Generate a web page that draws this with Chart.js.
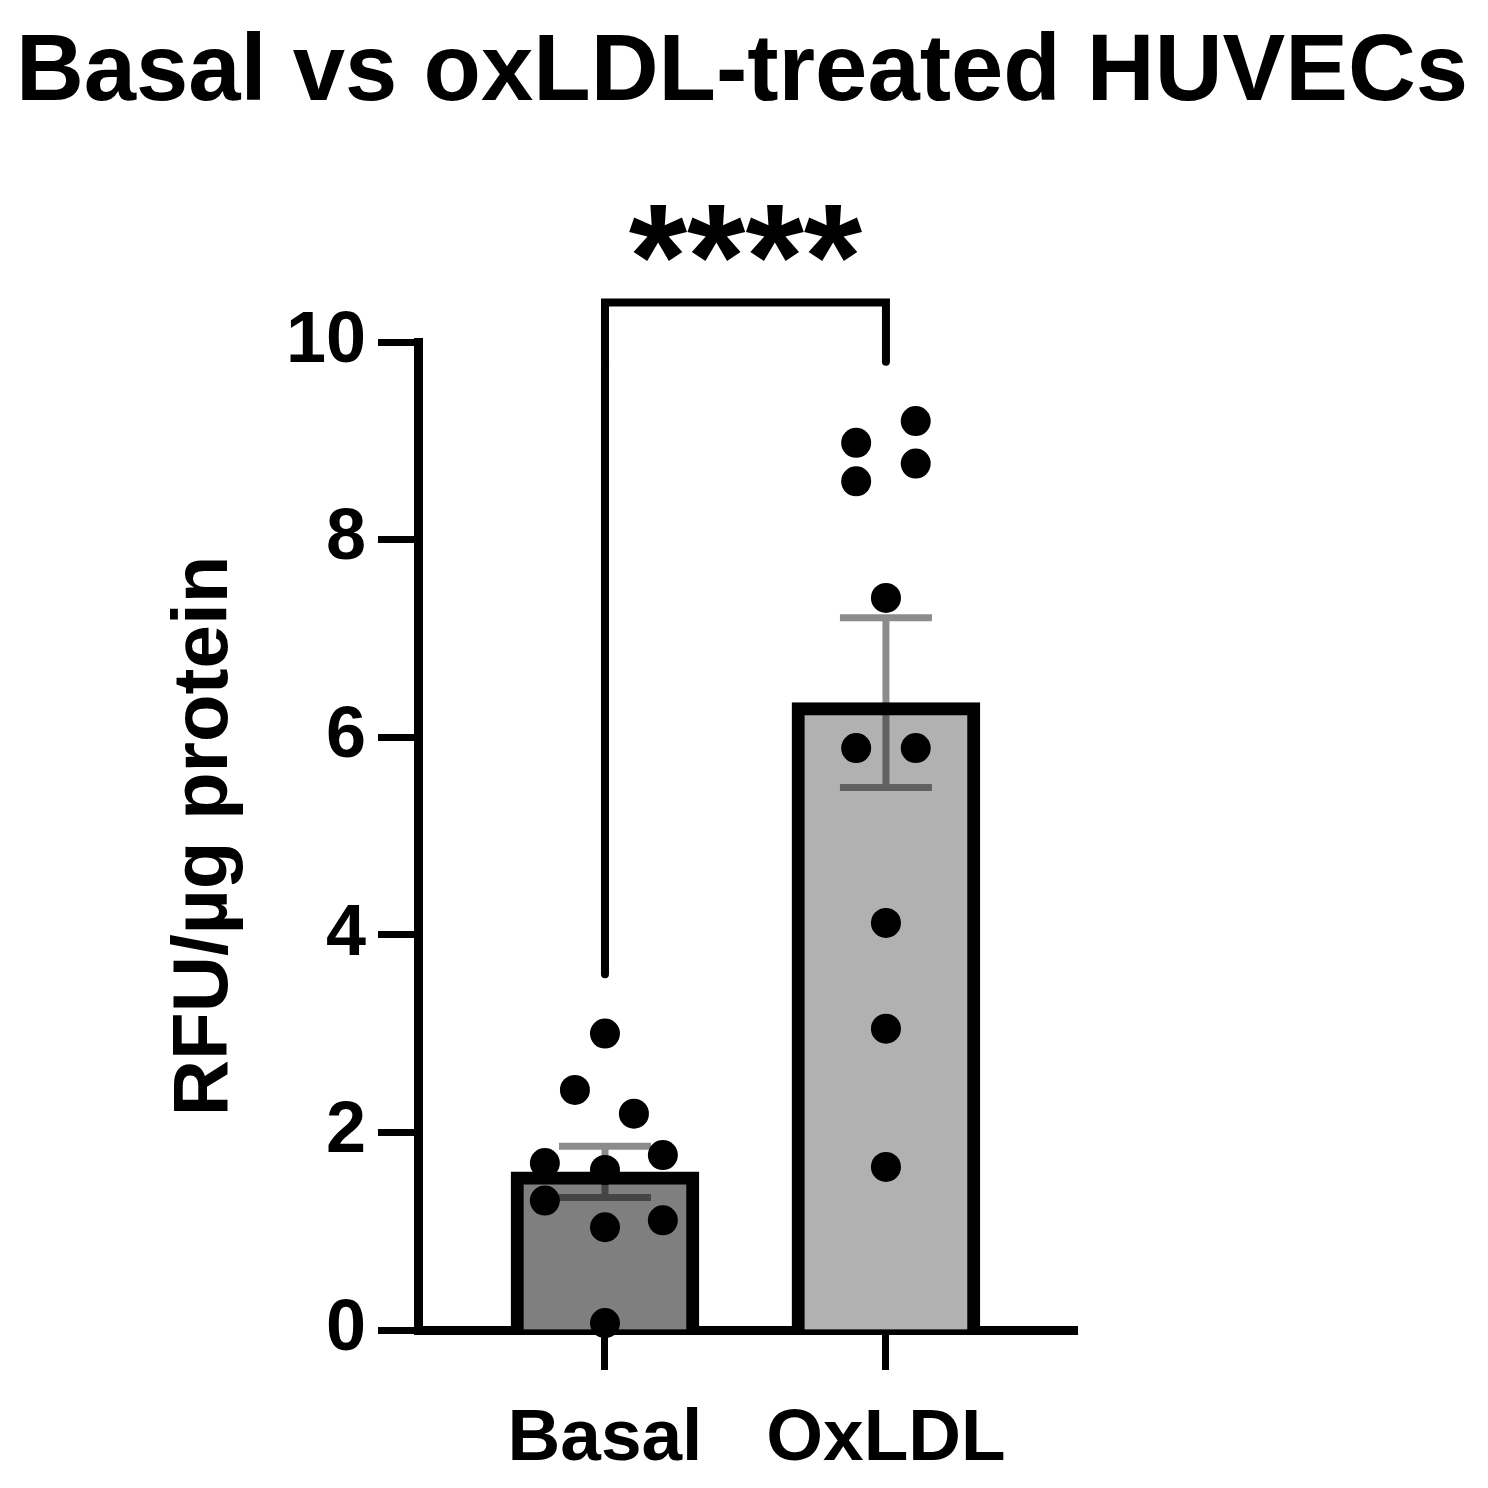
<!DOCTYPE html>
<html>
<head>
<meta charset="utf-8">
<title>Basal vs oxLDL-treated HUVECs</title>
<script src="https://cdn.jsdelivr.net/npm/chart.js@4.4.1/dist/chart.umd.min.js"></script>
<style>
    html, body { margin: 0; padding: 0; background: #fff; }
    canvas { display: block; }
</style>
</head>
<body>
<canvas id="chart" width="1488" height="1488"></canvas>
<script>
// Groups and summary values (mean ± SEM)
const categories = ["Basal", "OxLDL"];
const means = [1.60, 6.35];
const sems = [0.26, 0.86];

// Individual replicates and their horizontal jitter (in group units)
const basalValues = [3.00, 2.43, 2.19, 1.69, 1.62, 1.77, 1.31, 1.04, 1.11, 0.07];
const basalJitter = [0, -0.107, 0.103, -0.214, 0, 0.206, -0.214, 0, 0.206, 0];
const oxldlValues = [9.20, 8.98, 8.77, 8.59, 7.41, 5.89, 5.89, 4.12, 3.05, 1.65];
const oxldlJitter = [0.106, -0.106, 0.106, -0.106, 0, -0.106, 0.106, 0, 0, 0];

const yTicks = [0, 2, 4, 6, 8, 10];

// Significance bracket (y values) and label
const bracketLeftEnd = 3.6;
const bracketTop = 10.4;
const bracketRightEnd = 9.8;
const sigLabel = "****";

const chartTitle = "Basal vs oxLDL-treated HUVECs";

const FONT = "'Liberation Sans', Arial, Helvetica, sans-serif";
Chart.defaults.font.family = FONT;
Chart.defaults.color = "#000";

const barPoints = categories.map((c, i) => ({ x: i + 1, y: means[i] }));
const dotPoints = [
    ...basalValues.map((v, i) => ({ x: 1 + basalJitter[i], y: v })),
    ...oxldlValues.map((v, i) => ({ x: 2 + oxldlJitter[i], y: v }))
];

// error bars go between the bars and the dots
const errorBars = {
    id: "errorBars",
    afterDatasetDraw(chart, args) {
        if (args.index !== 0) return;
        const { ctx, scales: { x, y } } = chart;
        ctx.save();
        ctx.strokeStyle = "rgba(0,0,0,0.45)";
        ctx.lineWidth = 7;
        means.forEach((m, i) => {
            const px = x.getPixelForValue(i + 1);
            const top = y.getPixelForValue(m + sems[i]);
            const bot = y.getPixelForValue(m - sems[i]);
            ctx.beginPath();
            ctx.moveTo(px, top); ctx.lineTo(px, bot);
            ctx.moveTo(px - 46, top); ctx.lineTo(px + 46, top);
            ctx.moveTo(px - 46, bot); ctx.lineTo(px + 46, bot);
            ctx.stroke();
        });
        ctx.restore();
    }
};

// bracket, stars and the page title (title drawn here so it is not squeezed)
const annotations = {
    id: "annotations",
    afterDraw(chart) {
        const { ctx, scales: { x, y } } = chart;
        const x1 = x.getPixelForValue(1);
        const x2 = x.getPixelForValue(2);
        const top = y.getPixelForValue(bracketTop);
        ctx.save();
        ctx.strokeStyle = "#000";
        ctx.lineWidth = 8;
        ctx.lineCap = "round";
        ctx.lineJoin = "miter";
        ctx.beginPath();
        ctx.moveTo(x1, y.getPixelForValue(bracketLeftEnd));
        ctx.lineTo(x1, top);
        ctx.lineTo(x2, top);
        ctx.lineTo(x2, y.getPixelForValue(bracketRightEnd));
        ctx.stroke();

        ctx.fillStyle = "#000";
        ctx.textAlign = "center";
        ctx.textBaseline = "alphabetic";
        ctx.font = "bold 150px " + FONT;
        ctx.fillText(sigLabel, (x1 + x2) / 2, top + 7);

        ctx.font = "bold 94px " + FONT;
        ctx.fillText(chartTitle, chart.width / 2 - 2, 100);
        ctx.restore();
    }
};

new Chart(document.getElementById("chart"), {
    data: {
        datasets: [
            {
                type: "bar",
                data: barPoints,
                backgroundColor: ["#7f7f7f", "#b1b1b1"],
                borderColor: "#000",
                borderWidth: 13,
                barThickness: 188,
                order: 2
            },
            {
                type: "scatter",
                data: dotPoints,
                pointRadius: 15,
                pointBackgroundColor: "#000",
                pointBorderWidth: 0,
                clip: false,
                order: 1
            }
        ]
    },
    options: {
        responsive: false,
        animation: false,
        layout: { padding: { left: 0, right: 411, top: 342, bottom: 0 } },
        plugins: {
            legend: { display: false },
            tooltip: { enabled: false },
            title: { display: false }
        },
        scales: {
            x: {
                type: "linear",
                min: 0.3345,
                max: 2.68,
                offset: false,
                z: 1,
                afterFit: scale => { scale.height = 158; },
                afterBuildTicks: scale => {
                    scale.ticks = categories.map((c, i) => ({ value: i + 1 }));
                },
                ticks: {
                    autoSkip: false,
                    maxRotation: 0,
                    padding: 26,
                    color: "#000",
                    font: { size: 73, weight: "bold" },
                    callback: v => categories[v - 1]
                },
                grid: {
                    offset: false,
                    drawOnChartArea: false,
                    tickLength: 40,
                    tickWidth: 7,
                    tickColor: "#000"
                },
                border: { display: true, color: "#000", width: 9 }
            },
            y: {
                min: 0,
                max: 10,
                afterFit: scale => { scale.width = 418; },
                afterBuildTicks: scale => {
                    scale.ticks = yTicks.map(v => ({ value: v }));
                },
                ticks: {
                    padding: 12,
                    color: "#000",
                    font: { size: 72, weight: "bold" }
                },
                grid: {
                    drawOnChartArea: false,
                    tickLength: 40,
                    tickWidth: 7,
                    tickColor: "#000"
                },
                border: { display: true, color: "#000", width: 9 },
                title: {
                    display: true,
                    text: "RFU/µg protein",
                    color: "#000",
                    font: { size: 78, weight: "bold" },
                    padding: { top: 159, bottom: 0 }
                }
            }
        }
    },
    plugins: [errorBars, annotations]
});
</script>
</body>
</html>
